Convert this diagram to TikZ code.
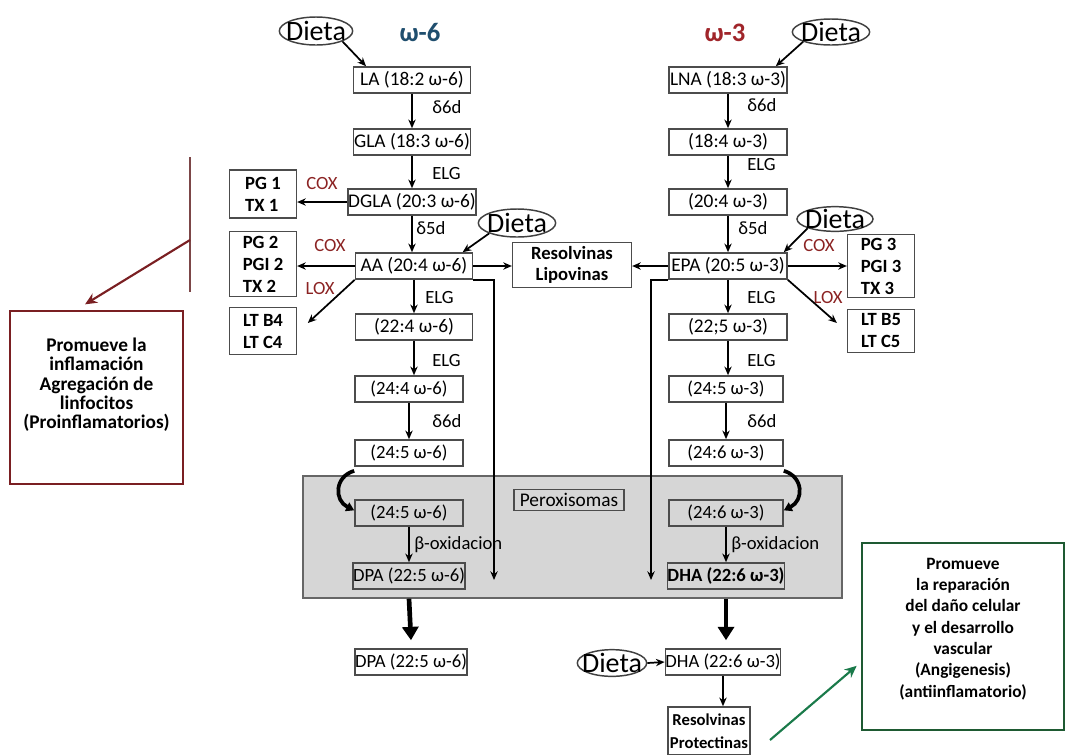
\documentclass[tikz,border=0pt]{standalone}
\usepackage{fontspec}
\setmainfont{Carlito}
\usetikzlibrary{arrows.meta,shapes.geometric,calc}
\definecolor{omsix}{HTML}{1F4E6E}
\definecolor{omthree}{HTML}{A0252A}
\definecolor{coxred}{HTML}{8B2323}
\definecolor{redbox}{HTML}{7A1F22}
\definecolor{greenbox}{HTML}{1E5A32}
\definecolor{greenarr}{HTML}{1A7A4A}
\definecolor{perox}{HTML}{D6D6D6}
\begin{document}
\begin{tikzpicture}[x=0.75pt,y=-0.75pt,
  box/.style={draw=black!70, line width=1.2pt, inner xsep=0pt, inner ysep=1pt, minimum height=19.5pt, font=\fontsize{14.5}{15}\selectfont},
  wbox/.style={box, minimum width=87.75pt},
  nbox/.style={box, minimum width=81pt, font=\fontsize{14}{15}\selectfont},
  rwbox/.style={box, minimum width=88.5pt},
  rnbox/.style={box, minimum width=85.5pt, font=\fontsize{14}{15}\selectfont},
  pgbox/.style={draw=black!70, line width=1.2pt, inner sep=0pt, minimum width=50pt, align=left, font=\bfseries\fontsize{14}{16.5}\selectfont},
  dieta/.style={ellipse, draw=black!75, line width=1.1pt, inner sep=-10pt, font=\fontsize{21}{21}\selectfont},
  lab/.style={anchor=west, inner sep=0pt, font=\fontsize{14}{15}\selectfont},
  enz/.style={inner sep=0pt, text=coxred, font=\fontsize{14}{15}\selectfont},
  arr/.style={-{Stealth[length=6.5pt,width=5.5pt]}, line width=1.3pt},
  big/.style={-{Triangle[length=10pt,width=12pt]}, line width=3.5pt},
  curv/.style={-{Triangle[length=6pt,width=7pt]}, line width=2.8pt},
]
\useasboundingbox (0,0) rectangle (1066,754);

% peroxisome area
\node[draw=black!60, fill=perox, line width=1pt, minimum width=404.25pt, minimum height=91.5pt, inner sep=0pt] (pbox) at (572.5,537) {};
\node[box, minimum width=82.5pt, minimum height=16pt] (perx) at (569,500) {Peroxisomas};

% headers
\node[text=omsix, font=\bfseries\fontsize{20}{20}\selectfont] (h6) at (420,32) {ω-6};
\node[text=omthree, font=\bfseries\fontsize{20}{20}\selectfont] (h3) at (725,33) {ω-3};

% left column
\node[wbox] (LA) at (412,80) {LA (18:2 ω-6)};
\node[wbox] (GLA) at (412,142) {GLA (18:3 ω-6)};
\node[wbox] (DGLA) at (412,202) {DGLA (20:3 ω-6)};
\node[wbox] (AA) at (414,266) {AA (20:4 ω-6)};
\node[wbox] (L224) at (414,327) {(22:4 ω-6)};
\node[nbox] (L244) at (409,389) {(24:4 ω-6)};
\node[nbox] (L245a) at (409,453) {(24:5 ω-6)};
\node[nbox] (L245b) at (409,513) {(24:5 ω-6)};
\node[nbox] (DPA1) at (409,576) {DPA (22:5 ω-6)};
\node[nbox] (DPA2) at (411,662) {DPA (22:5 ω-6)};

% right column
\node[rwbox] (LNA) at (728,80) {LNA (18:3 ω-3)};
\node[rwbox] (R184) at (728,142) {(18:4 ω-3)};
\node[rwbox] (R204) at (728,202) {(20:4 ω-3)};
\node[rwbox] (EPA) at (728,266) {EPA (20:5 ω-3)};
\node[rwbox] (R225) at (728,327) {(22;5 ω-3)};
\node[rnbox] (R245) at (726,389) {(24:5 ω-3)};
\node[rnbox] (R246a) at (726,453) {(24:6 ω-3)};
\node[rnbox] (R246b) at (726,513) {(24:6 ω-3)};
\node[rnbox] (DHA1) at (726,576) {\bfseries DHA (22:6 ω-3)};
\node[rnbox, minimum width=82.5pt] (DHA2) at (723,662) {DHA (22:6 ω-3)};

% side boxes
\node[pgbox, minimum height=36pt] (PG1) at (263,194) {PG 1\\TX 1};
\node[pgbox, minimum height=48.75pt] (PG2) at (263,264) {PG 2\\PGI 2\\TX 2};
\node[pgbox, minimum height=35pt] (LT4) at (263,331) {LT B4\\LT C4};
\node[pgbox, minimum height=47pt] (PG3) at (881,266) {PG 3\\PGI 3\\TX 3};
\node[pgbox, minimum height=32pt] (LT5) at (881,331) {LT B5\\LT C5};
\node[pgbox, align=center, minimum width=89pt, minimum height=34pt, font=\bfseries\fontsize{14}{16}\selectfont] (RL) at (572,265) {Resolvinas\\Lipovinas};
\node[pgbox, align=center, minimum width=61.5pt, minimum height=36pt, font=\bfseries\fontsize{12.5}{17}\selectfont] (RP) at (709,731) {Resolvinas\\Protectinas};

% enzymes
\node[enz] (cox1) at (322,183) {COX};
\node[enz] (cox2) at (330,245) {COX};
\node[enz] (lox1) at (320,288) {LOX};
\node[enz] (cox3) at (819,245) {COX};
\node[enz] (lox2) at (828,297) {LOX};

% dieta
\node[dieta, minimum width=55pt, minimum height=21pt] (d1) at (316,31) {Dieta};
\node[dieta, minimum width=58pt, minimum height=19.5pt] (d2) at (831,32) {Dieta};
\node[dieta, minimum width=58pt, minimum height=21pt] (d3) at (517,223) {Dieta};
\node[dieta, minimum width=57pt, minimum height=18.5pt] (d4) at (835,219) {Dieta};
\node[dieta, minimum width=52pt, minimum height=20pt] (d5) at (612,663) {Dieta};

% outcome boxes
\node[draw=redbox, line width=2pt, minimum width=129.75pt, minimum height=129.75pt, inner sep=0pt] (redb) at (96.5,397.5) {};
\node[align=center, font=\bfseries\fontsize{14.5}{14.5}\selectfont] (redt) at (96.5,385) {Promueve la\\inflamación\\Agregación de\\linfocitos\\(Proinflamatorios)};
\node[draw=greenbox, line width=2pt, minimum width=151.5pt, minimum height=140.25pt, inner sep=0pt] (greenb) at (963,636.5) {};
\node[align=center, font=\bfseries\fontsize{13}{16}\selectfont] (greent) at (963,629) {Promueve\\la reparación\\del daño celular\\y el desarrollo\\vascular\\(Angigenesis)\\(antiinflamatorio)};

% labels
\node[lab] (l1) at (432,107) {δ6d};
\node[lab] (l2) at (432,173) {ELG};
\node[lab] (l3) at (416,228) {δ5d};
\node[lab] (l4) at (425,297) {ELG};
\node[lab] (l5) at (432,360) {ELG};
\node[lab] (l6) at (432,421) {δ6d};
\node[lab] (l7) at (414,545) {β-oxidacion};
\node[lab] (r1) at (747,105) {δ6d};
\node[lab] (r2) at (747,165) {ELG};
\node[lab] (r3) at (738,228) {δ5d};
\node[lab] (r4) at (747,297) {ELG};
\node[lab] (r5) at (747,360) {ELG};
\node[lab] (r6) at (747,421) {δ6d};
\node[lab] (r7) at (731,545) {β-oxidacion};

% vertical chain arrows
\foreach \a/\b in {LA/GLA,GLA/DGLA,DGLA/AA,AA/L224,L224/L244,L244/L245a,L245b/DPA1,
                   LNA/R184,R184/R204,R204/EPA,EPA/R225,R225/R245,R245/R246a,R246b/DHA1}
  \draw[arr] (\a.south) -- (\a.south |- \b.north);

% curved arrows into peroxisomes
\draw[curv] ([yshift=-3pt]L245a.south west) .. controls +(-20,6) and +(-20,-10) .. ([yshift=2pt]L245b.west);
\draw[curv] ([yshift=-3pt]R246a.south east) .. controls +(20,6) and +(20,-10) .. ([yshift=2pt]R246b.east);

% big arrows
\draw[big] (DPA1.south |- pbox.south) -- ([yshift=6pt]DPA2.north);
\draw[big] (DHA1.south |- pbox.south) -- ([yshift=6pt]DHA1.south |- DHA2.north);
\draw[arr] (DHA2.south) -- (DHA2.south |- RP.north);

% side arrows
\draw[arr] (DGLA.west) -- (DGLA.west -| PG1.east);
\draw[arr] (AA.west) -- (AA.west -| PG2.east);
\draw[arr] (AA.south west) -- ([xshift=8pt,yshift=6pt]LT4.east);
\draw[arr] (EPA.east) -- (EPA.east -| PG3.west);
\draw[arr] (EPA.south east) -- ([xshift=-7.5pt,yshift=6pt]LT5.west);
\draw[arr] (AA.east) -- (AA.east -| RL.west);
\draw[arr] (EPA.west) -- (EPA.west -| RL.east);

% long lines to peroxisomes
\coordinate (aaend) at (494,580);
\coordinate (epaend) at (651,580);
\draw[arr] (AA.south east) -- (AA.south east -| aaend) -- (aaend);
\draw[arr] (EPA.south west) -- (EPA.south west -| epaend) -- (epaend);

% dieta arrows
\draw[arr] (d1.south east) -- ([xshift=10pt]LA.north west);
\draw[arr] (d2.south west) -- ([xshift=-9pt]LNA.north east);
\draw[arr] (d3.south west) -- ([xshift=-8pt]AA.north east);
\draw[arr] (d4.south west) -- ([xshift=-3pt]EPA.north east);
\draw[arr] (d5.east) -- (DHA2.west);

% outcome arrows
\coordinate (rtop) at (190,157);
\coordinate (rbot) at (190,292);
\coordinate (rstart) at (190,240);
\draw[line width=1pt, draw=redbox!60!gray] (rtop) -- (rbot);
\draw[-{Stealth[length=9pt,width=8pt]}, line width=1.6pt, draw=redbox] (rstart) -- ([xshift=-8.6pt,yshift=4pt]redb.north);
\coordinate (gstart) at (770,740);
\draw[-{Stealth[length=9pt,width=8pt]}, line width=1.6pt, draw=greenarr] (gstart) -- ([xshift=-3pt,yshift=-22pt]greenb.west);
\end{tikzpicture}
\end{document}
